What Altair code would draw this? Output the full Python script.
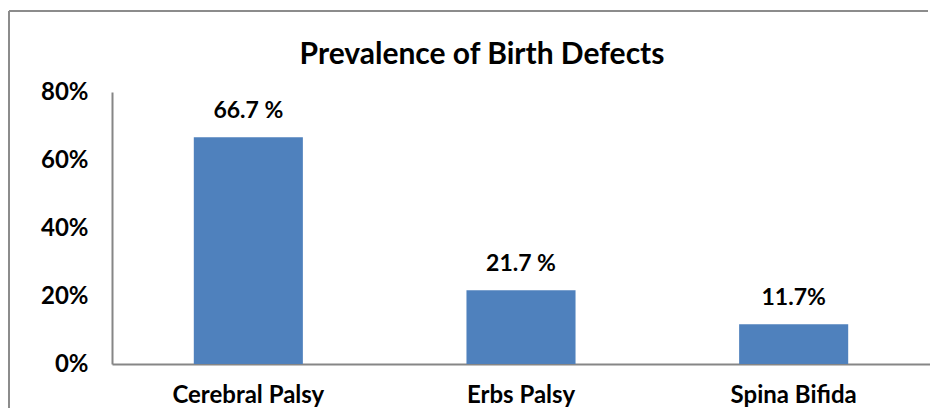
import altair as alt
import pandas as pd

categories = ["Cerebral Palsy", "Erbs Palsy", "Spina Bifida"]
values = [0.667, 0.217, 0.117]
value_labels = ["66.7 %", "21.7 %", "11.7%"]
y_ticks = [0, 0.2, 0.4, 0.6, 0.8]

df = pd.DataFrame({"cat": categories, "val": values, "lab": value_labels})

FONT = "Lato"

x = alt.X("cat:N", sort=categories, title=None,
          scale=alt.Scale(paddingInner=0.6, paddingOuter=0.3),
          axis=alt.Axis(labelAngle=0, labelFontSize=24, labelFontWeight="bold",
                        labelColor="black", labelFont=FONT, labelPadding=38,
                        labelBaseline="alphabetic",
                        ticks=False, domainColor="#868686", domainWidth=2))
y = alt.Y("val:Q", title=None,
          scale=alt.Scale(domain=[0, 0.8], nice=False),
          axis=alt.Axis(values=y_ticks, format=".0%", labelFontSize=24,
                        labelFontWeight="bold", labelColor="black", labelFont=FONT,
                        labelPadding=24, ticks=False, grid=False,
                        domainColor="#868686", domainWidth=2))

bars = alt.Chart(df).mark_bar(color="#4F81BD").encode(x=x, y=y)
text = alt.Chart(df).mark_text(dy=-19, fontSize=23, fontWeight="bold", font=FONT,
                               color="black", baseline="alphabetic").encode(
    x=alt.X("cat:N", sort=categories), y="val:Q", text="lab:N")

border_left = alt.Chart(df).mark_rule(color="#8c8c8c", strokeWidth=2).encode(
    x=alt.value(-103), y=alt.value(-81), y2=alt.value(320))
border_top = alt.Chart(df).mark_rule(color="#8c8c8c", strokeWidth=2).encode(
    x=alt.value(-103), x2=alt.value(816), y=alt.value(-81))

chart = alt.layer(bars, text, border_left, border_top).properties(
    width=818, height=272,
    title=alt.TitleParams("Prevalence of Birth Defects", fontSize=30, fontWeight="bold",
                          font=FONT, color="black", anchor="middle", dx=-39,
                          offset=0, baseline="alphabetic", dy=84),
    autosize=alt.AutoSizeParams(type="none"),
    padding={"left": 104, "top": 84, "right": 0, "bottom": 44},
).configure_view(strokeWidth=0)

chart.save("out.html", embed_options={"renderer": "svg", "actions": False})
